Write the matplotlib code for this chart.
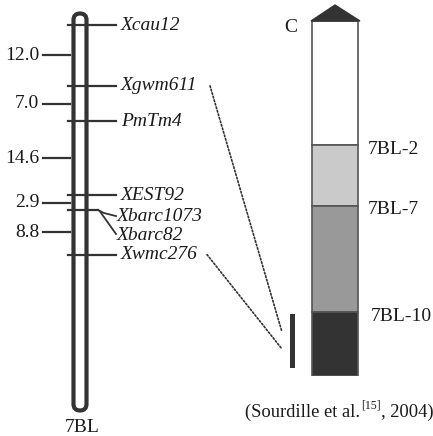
import matplotlib
matplotlib.use('Agg')
import matplotlib.pyplot as plt
import matplotlib.patches as patches
import numpy as np

plt.rcParams['font.family'] = ['Liberation Serif', 'DejaVu Serif']

# ── Data ──
markers = ['Xcau12', 'Xgwm611', 'PmTm4', 'XEST92', 'Xbarc1073', 'Xbarc82', 'Xwmc276']
intervals = [12.0, 7.0, 14.6, 2.9, 0.0, 8.8]          # cM between neighbours
positions = np.concatenate([[0.0], np.cumsum(intervals)])

bins = ['7BL-2', '7BL-7', '7BL-10']
breakpoints = [0.35, 0.52, 0.82]                       # fraction length from centromere
bin_colors = ['#ffffff', '#cacaca', '#999999', '#333333']
pm_region = (0.825, 0.977)                             # small bar next to the bins

DARK = '#333333'
TXT = '#1a1a1a'
W, H = 433, 436
PX_PER_CM = 5.068
Y0 = 25.0   # pixel row of 0 cM

fig = plt.figure(figsize=(W / 100, H / 100), dpi=100)

# ── Left: genetic map (x in px, y in cM) ──
ax = fig.add_axes([0, 0, 1, 1])
ax.set_xlim(0, W)
ax.set_ylim((H - Y0) / PX_PER_CM, -Y0 / PX_PER_CM)
ax.axis('off')

def cm(px):
    return (px - Y0) / PX_PER_CM

chrom = patches.FancyBboxPatch((73.5, cm(13.5)), 13, cm(410.5) - cm(13.5),
                               boxstyle='round,pad=0,rounding_size=6.5',
                               mutation_aspect=1 / PX_PER_CM,
                               facecolor='white', edgecolor=DARK, linewidth=3.0)
ax.add_patch(chrom)

for name, pos in zip(markers, positions):
    if name == 'Xbarc1073':
        ax.plot([68, 98], [pos, pos], color=DARK, lw=1.6)
        ax.plot([98, 104, 116], [pos, pos + 0.6, pos + 1.2], color=DARK, lw=1.3)
        ax.text(117, pos + 7 / PX_PER_CM, name, fontsize=14, style='italic',
                ha='left', va='center', color=TXT)
    elif name == 'Xbarc82':
        ax.plot([100, 116], [pos + 0.3, pos + 24 / PX_PER_CM], color=DARK, lw=1.3)
        ax.text(117, pos + 26 / PX_PER_CM, name, fontsize=14, style='italic',
                ha='left', va='center', color=TXT)
    else:
        ax.plot([68, 116], [pos, pos], color=DARK, lw=1.6)
        ax.text(121, pos, name, fontsize=14, style='italic',
                ha='left', va='center', color=TXT)

for i, d in enumerate(intervals):
    if d == 0:
        continue
    mid = (positions[i] + positions[i + 1]) / 2
    ax.plot([43, 70], [mid, mid], color=DARK, lw=1.6)
    ax.text(39, mid, '{:.1f}'.format(d), fontsize=14, ha='right', va='center',
            color=TXT)

# ── Right: deletion bins (y = fraction length) ──
ax2 = fig.add_axes([0, 1 - 376 / H, 1, 355 / H])
ax2.set_xlim(0, W)
ax2.set_ylim(1, 0)
ax2.axis('off')
ax2.patch.set_visible(False)

edges = [0.0] + breakpoints + [1.0]
ax2.bar([335] * 4, np.diff(edges), bottom=edges[:-1], width=46,
        color=bin_colors, edgecolor='#555555', linewidth=1.2)
ax2.add_patch(patches.Polygon([(311, 0), (360, 0), (335, -0.045)], closed=True,
                              facecolor=DARK, edgecolor=DARK, clip_on=False))
ax2.bar(292.5, pm_region[1] - pm_region[0], bottom=pm_region[0], width=5,
        color=DARK)

ax2.text(291, 0.017, 'C', fontsize=14, ha='center', va='center', color=TXT)
for b, y in zip(bins, breakpoints):
    ax2.text(368 if b != '7BL-10' else 371, y + 0.012, b, fontsize=14,
             ha='left', va='center', color=TXT)

# dotted links from the map to the small bar
for name, fl, x0 in [('Xgwm611', 0.876, 210), ('Xwmc276', 0.924, 207)]:
    pos = positions[markers.index(name)]
    con = patches.ConnectionPatch(xyA=(x0, pos), coordsA=ax.transData,
                                  xyB=(282, fl), coordsB=ax2.transData,
                                  linestyle=(0, (1, 1.2)), color='#333333', lw=1.2)
    fig.add_artist(con)

# ── Captions ──
fig.text(82 / W, 1 - 427 / H, '7BL', fontsize=14, ha='center', va='center',
         color=TXT)
t1 = fig.text(245 / W, 1 - 412 / H, '(Sourdille et al.', fontsize=13.3,
              ha='left', va='center', color=TXT)
t2 = fig.text(0, 0, '[15]', fontsize=8.5, ha='left', va='bottom', color=TXT)
t3 = fig.text(0, 0, ', 2004)', fontsize=13.3, ha='left', va='baseline', color=TXT)
fig.canvas.draw()
r = fig.canvas.get_renderer()
bb1 = t1.get_window_extent(r).transformed(fig.transFigure.inverted())
t2.set_position((bb1.x1 + 0.002, bb1.y0 + 0.55 * (bb1.y1 - bb1.y0)))
bb2 = t2.get_window_extent(r).transformed(fig.transFigure.inverted())
t3.set_position((bb2.x1, bb1.y0 + 0.22 * (bb1.y1 - bb1.y0)))

fig.savefig('out.png', dpi=100, facecolor='white')
